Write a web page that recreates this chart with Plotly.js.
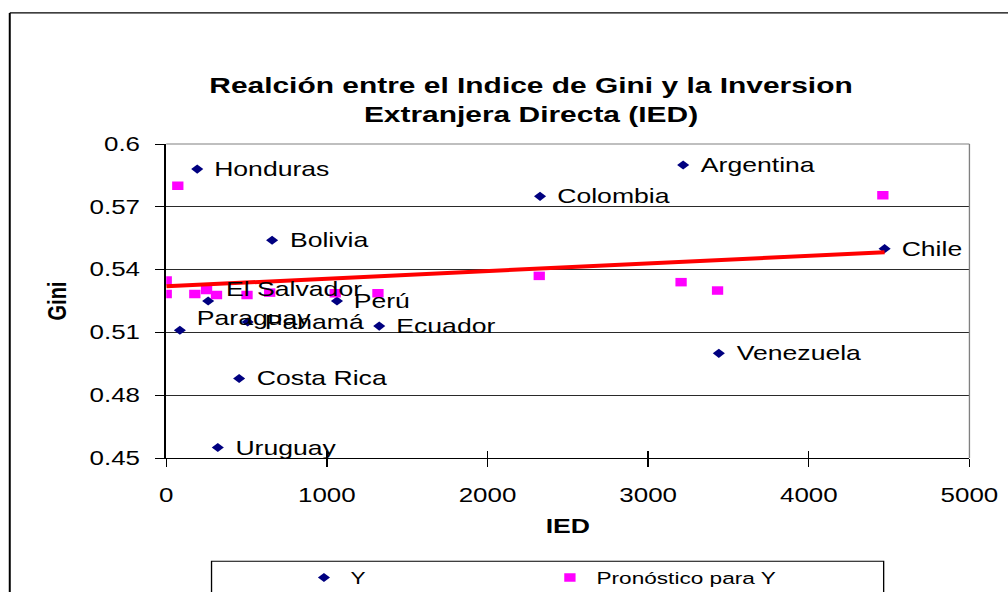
<!DOCTYPE html>
<html>
<head>
<meta charset="utf-8">
<script src="https://cdn.plot.ly/plotly-3.0.1.min.js"></script>
<style>
html,body{margin:0;padding:0;overflow:hidden;background:#fff;}
#chart{width:758px;height:592px;transform:scaleX(1.32982);transform-origin:0 0;}
</style>
</head>
<body>
<div id="chart"></div>
<script>
// ---- data ----
const countries = ['Honduras','Argentina','Colombia','Bolivia','Chile','El Salvador','Perú','Paraguay','Panamá','Ecuador','Costa Rica','Venezuela','Uruguay'];
const iedValues = [193, 3218, 2327, 659, 4472, 261, 1063, 85, 507, 1326, 454, 3440, 321];
const giniValues = [0.588, 0.590, 0.575, 0.554, 0.550, 0.525, 0.525, 0.511, 0.515, 0.513, 0.488, 0.500, 0.455];

const forecastX = [0, 0, 72, 178, 251, 313, 503, 644, 1052, 1318, 2322, 3205, 3432, 4461];
const forecastY = [0.5348, 0.5283, 0.580, 0.5283, 0.5302, 0.5279, 0.5279, 0.529, 0.5287, 0.5287, 0.537, 0.534, 0.530, 0.5755];

const trendX = [0, 4472];
const trendY = [0.532, 0.5483];

const xTickVals = [0, 1000, 2000, 3000, 4000, 5000];
const yTickVals = [0.45, 0.48, 0.51, 0.54, 0.57, 0.6];

const titleText = 'Realción entre el Indice de Gini y la Inversion<br>Extranjera Directa (IED)';
const raisedLabels = ['El Salvador', 'Paraguay'];

// ---- styling ----
const FONT = 'Liberation Sans, Arial, Helvetica, sans-serif';

const traces = [
  {
    type: 'scatter', mode: 'markers', name: 'Y',
    x: iedValues, y: giniValues,
    marker: {symbol: 'diamond', size: 7, color: '#000080'},
    legend: 'legend', hoverinfo: 'skip'
  },
  {
    type: 'scatter', mode: 'markers', name: 'Pronóstico para Y',
    x: forecastX, y: forecastY,
    marker: {symbol: 'square', size: 8.5, color: '#FF00FF'},
    legend: 'legend2', hoverinfo: 'skip'
  },
  {
    type: 'scatter', mode: 'lines', name: 'Tendencia',
    x: trendX, y: trendY, xaxis: 'x2', yaxis: 'y',
    line: {color: '#FF0000', width: 4},
    showlegend: false, hoverinfo: 'skip'
  }
];

const annotations = countries.map((c, i) => ({
  x: iedValues[i], y: giniValues[i], xref: 'x', yref: 'y',
  text: c, showarrow: false, xanchor: 'left', yanchor: 'middle',
  xshift: 11, yshift: raisedLabels.includes(c) ? 12 : 0,
  font: {family: FONT, size: 20, color: '#000'}
}));

const layout = {
  width: 758, height: 592,
  margin: {l: 124.6, r: 28.6, t: 144, b: 133.5, pad: 0},
  paper_bgcolor: '#fff', plot_bgcolor: '#fff',
  font: {family: FONT, color: '#000'},
  showlegend: true,
  title: {
    text: titleText,
    font: {family: FONT, size: 22.5, color: '#000', weight: 'bold'},
    xref: 'container', yref: 'container',
    x: 0.5268, xanchor: 'center',
    y: 1 - 93/592, yanchor: 'middle'
  },
  xaxis: {
    range: [0, 5000], tickvals: xTickVals, ticks: 'outside', ticklen: 7.5,
    tickcolor: '#000', tickwidth: 1,
    showline: true, linecolor: '#000', linewidth: 1,
    showgrid: false, zeroline: false,
    tickfont: {family: FONT, size: 19.5, color: '#000'},
    ticklabelstandoff: 12,
    title: {text: 'IED', font: {family: FONT, size: 20, color: '#000', weight: 'bold'}, standoff: 14}
  },
  xaxis2: {
    range: [0, 5000], tickvals: xTickVals, ticks: 'inside', ticklen: 7,
    tickcolor: '#000', tickwidth: 1, overlaying: 'x', anchor: 'y', side: 'bottom',
    showline: false, showgrid: false, zeroline: false, showticklabels: false
  },
  yaxis: {
    range: [0.45, 0.6], tickvals: yTickVals, ticks: 'outside', ticklen: 7.5,
    tickcolor: '#000', tickwidth: 1,
    showline: true, linecolor: '#000', linewidth: 1.3,
    showgrid: true, gridcolor: '#2a2a2a', gridwidth: 1, zeroline: false,
    tickfont: {family: FONT, size: 19.5, color: '#000'},
    ticklabelstandoff: 7,
    title: {text: 'Gini', font: {family: FONT, size: 20, color: '#000', weight: 'bold'}, standoff: 11}
  },
  legend: {
    x: 0.2950, y: 1 - 578/592, xref: 'container', yref: 'container', xanchor: 'left', yanchor: 'middle',
    orientation: 'h', bgcolor: 'rgba(0,0,0,0)', borderwidth: 0,
    font: {family: FONT, size: 17, color: '#000'}
  },
  legend2: {
    x: 0.5390, y: 1 - 578/592, xref: 'container', yref: 'container', xanchor: 'left', yanchor: 'middle',
    orientation: 'h', bgcolor: 'rgba(0,0,0,0)', borderwidth: 0,
    font: {family: FONT, size: 17, color: '#000'}
  },
  shapes: [
    // plot area border (top and right, grey)
    {type: 'line', xref: 'paper', yref: 'paper', x0: 0, x1: 1, y0: 1, y1: 1, line: {color: '#808080', width: 1}, layer: 'above'},
    {type: 'line', xref: 'paper', yref: 'paper', x0: 1, x1: 1, y0: 0, y1: 1, line: {color: '#808080', width: 1}, layer: 'above'},
    // outer chart frame
    {type: 'line', xref: 'paper', yref: 'paper', x0: -0.1948, x1: 1.2, y0: 1.4175, y1: 1.4175, line: {color: '#000', width: 1.2}},
    {type: 'line', xref: 'paper', yref: 'paper', x0: -0.1948, x1: -0.1948, y0: -0.5, y1: 1.4175, line: {color: '#000', width: 1.5}},
    // legend frame
    {type: 'rect', xref: 'paper', yref: 'paper', x0: 0.0564, x1: 0.8932, y0: -0.5, y1: -0.329, line: {color: '#000', width: 1}}
  ],
  annotations: annotations
};

Plotly.newPlot('chart', traces, layout, {displayModeBar: false, staticPlot: true, responsive: false});
</script>
</body>
</html>
